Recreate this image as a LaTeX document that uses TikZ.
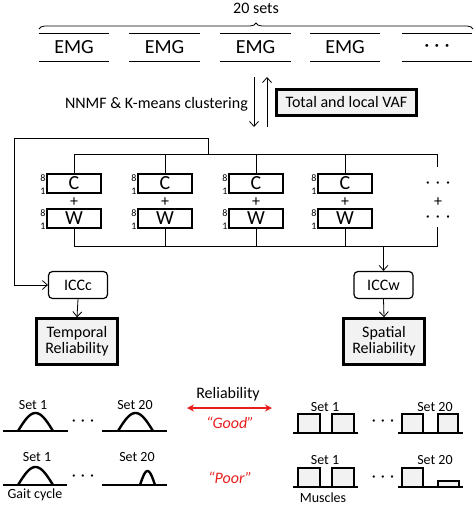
\documentclass[tikz,border=0pt]{standalone}
\usepackage{fontspec}
\setmainfont{Carlito}
\usepackage{tikz}
\usetikzlibrary{arrows.meta,decorations.pathreplacing}

\definecolor{boxgray}{RGB}{242,242,242}
\definecolor{relred}{RGB}{230,30,30}
\newcommand{\setfs}[1]{\fontsize{#1}{#1}\selectfont}
\newcommand{\mydots}{·\hspace{5pt}·\hspace{5pt}·}
% arch shaped activation curve: x0, x1, base, peak
\newcommand{\hump}[4]{\draw[curve] plot[domain=0:1,samples=40] ({#1+(#2-#1)*\x},{#3-(#3-#4)*sin(180*\x)});}

\begin{document}
\begin{tikzpicture}[x=1pt,y=-1pt]
\tikzstyle{emg} = [minimum width=70pt, minimum height=27pt, inner sep=0pt, font=\setfs{20}]
\tikzstyle{thinline} = [line width=0.8pt]
\tikzstyle{arr} = [thinline, -{Straight Barb[length=5pt,width=9pt]}]
\tikzstyle{synbox} = [draw, line width=1.6pt, minimum width=54pt, minimum height=19pt, inner sep=0pt, font=\setfs{20}]
\tikzstyle{numlab} = [inner sep=0.5pt, font=\setfs{10}]
\tikzstyle{resbox} = [draw, line width=2.5pt, fill=boxgray, inner sep=0pt, font=\setfs{16}, align=center]
\tikzstyle{iccbox} = [draw, line width=1.2pt, rounded corners=4pt, minimum width=59pt, minimum height=27pt, inner sep=0pt, font=\setfs{16}]
\tikzstyle{txt} = [inner sep=0pt, font=\setfs{16}]
\tikzstyle{setlab} = [inner sep=0pt, font=\setfs{14}]
\tikzstyle{curve} = [line width=2.4pt]
\tikzstyle{bar} = [draw, line width=2pt, fill=boxgray]
\useasboundingbox (0,0) rectangle (474,506);

% EMG sets
\foreach \i/\x in {1/74,2/164.5,3/255.5,4/345}
    \node[emg] (emg\i) at (\x,47.5) {EMG};
\node[emg] (emg5) at (437,47.5) {\mydots};
\foreach \i in {1,...,5}
    \draw[thinline] (emg\i.north west) -- (emg\i.north east)
        (emg\i.south west) -- (emg\i.south east);
\draw[thinline, decorate, decoration={brace,amplitude=6pt}] (39,29) -- (473,29);
\node[txt] (sets) at (256,8) {20 sets};

% NNMF step
\coordinate (nnmf top) at (254,77);
\coordinate (nnmf bot) at (254,127);
\coordinate (vaf top) at (267,77);
\coordinate (vaf bot) at (267,127);
\draw[arr] (nnmf top) -- (nnmf bot);
\draw[arr, {Straight Barb[length=5pt,width=9pt]}-] (vaf top) -- (vaf bot);
\node[txt, anchor=east] (nnmf) at (248,104) {NNMF \& K-means clustering};
\node[resbox, minimum width=140pt, minimum height=26pt] (vaf) at (346.5,102.5) {Total and local VAF};

% synergies
\foreach \i/\x in {1/74,2/165,3/256,4/345} {
    \node[synbox] (c\i) at (\x,183.5) {C};
    \node[synbox] (w\i) at (\x,218.5) {W};
    \node[txt] (plus\i) at (\x,202) {+};
    \node[numlab, anchor=north east] at ([yshift=-1pt]c\i.north west) {8};
    \node[numlab, anchor=south east] at ([yshift=-1pt]c\i.south west) {1};
    \node[numlab, anchor=north east] at ([yshift=-1pt]w\i.north west) {8};
    \node[numlab, anchor=south east] at ([yshift=-1pt]w\i.south west) {1};
    \coordinate (top\i) at (\x,154);
    \coordinate (bot\i) at (\x,246);
    \draw[thinline] (top\i) -- (c\i.north);
    \draw[thinline] (w\i.south) -- (bot\i);
}
\node[txt] (cdots) at (438,185) {·\hspace{6pt}·\hspace{6pt}·};
\node[txt] (plus5) at (438,202) {+};
\node[txt] (wdots) at (438,219) {·\hspace{6pt}·\hspace{6pt}·};
\coordinate (top5) at (437,154);
\coordinate (bot5) at (437,246);
\draw[thinline] (top1) -- (top5) -- (437,167);
\draw[thinline] (bot1) -- (bot5) -- (437,227);

% ICC and reliability
\node[iccbox] (iccc) at (78,285) {ICCc};
\node[iccbox] (iccw) at (383.5,285) {ICCw};
\node[resbox, minimum width=81pt, minimum height=46pt] (temp) at (77,341.5) {Temporal\\Reliability};
\node[resbox, minimum width=81pt, minimum height=46pt] (spat) at (384,341.5) {Spatial\\Reliability};
\coordinate (tap c) at (208,154);
\coordinate (tap w) at (383.5,246);
\draw[arr] (tap c) |- (14,138) |- (iccc.west);
\draw[arr] (tap w) -- (iccw.north);
\draw[arr] (iccc.south) -- (temp.north);
\draw[arr] (iccw.south) -- (spat.north);

% good / poor examples
\node[txt] (rel) at (228,394) {Reliability};
\coordinate (rel l) at (187,408);
\coordinate (rel r) at (272,408);
\draw[relred, line width=1.5pt, {Stealth[length=7pt,width=7pt]}-{Stealth[length=7pt,width=7pt]}] (rel l) -- (rel r);
\node[txt, text=relred, font=\setfs{16}\itshape] (good) at (230,423) {``Good''};
\node[txt, text=relred, font=\setfs{16}\itshape] (poor) at (230,478) {``Poor''};

% temporal examples
\draw[curve] (3,431) -- (68,431) (102,431) -- (167,431);
\hump{18}{53}{431}{413}
\hump{118}{153}{431}{413}
\node[setlab] (gs1) at (33,405) {Set 1};
\node[setlab] (gs20) at (135,405) {Set 20};
\node[txt] (gdots) at (83,423) {\mydots};
\draw[curve] (3,485) -- (67,485) (102,485) -- (167,485);
\hump{18}{53}{485}{467}
\hump{140}{155}{485}{471}
\node[setlab] (ps1) at (37,457) {Set 1};
\node[setlab] (ps20) at (137,457) {Set 20};
\node[txt] (pdots) at (83,478) {\mydots};
\node[setlab] (gait) at (35,495) {Gait cycle};

% spatial examples
\draw[curve] (293,433) -- (358,433) (398,433) -- (463,433);
\draw[bar] (298,414) rectangle (320,433) (332,414) rectangle (354,433);
\draw[bar] (402,414) rectangle (423,433) (438,414) rectangle (458,433);
\node[setlab] (gm1) at (325,407) {Set 1};
\node[setlab] (gm20) at (435,407) {Set 20};
\node[txt] (gmdots) at (383,423) {\mydots};
\draw[curve] (293,487) -- (358,487) (398,487) -- (463,487);
\draw[bar] (298,468) rectangle (320,487) (332,468) rectangle (354,487);
\draw[bar] (402,468) rectangle (423,487) (438,481) rectangle (459,487);
\node[setlab] (pm1) at (325,460) {Set 1};
\node[setlab] (pm20) at (435,460) {Set 20};
\node[txt] (pmdots) at (383,479) {\mydots};
\node[setlab] (musc) at (323,498) {Muscles};
\end{tikzpicture}
\end{document}
